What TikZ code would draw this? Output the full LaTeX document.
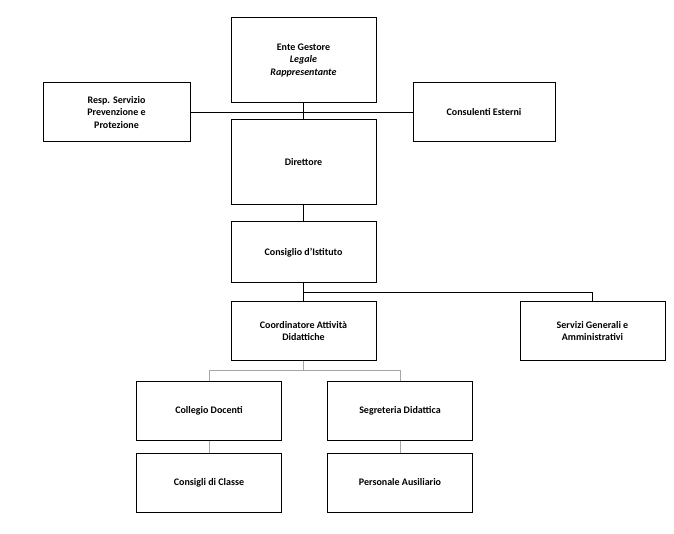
\documentclass[tikz,border=0pt]{standalone}
\usepackage{fontspec}
\setmainfont{Carlito}
\begin{document}
\begin{tikzpicture}[x=1pt,y=-1pt,
  box/.style={draw,line width=1pt,fill=white,align=center,inner sep=2pt,
    font=\bfseries\fontsize{10}{12.5}\selectfont},
  wide/.style={box,minimum width=145pt,minimum height=59pt},
  tall/.style={box,minimum width=145pt,minimum height=85pt},
  main/.style={line width=1.1pt},
  thin/.style={gray!70,line width=0.6pt}]
  % Frame
  \useasboundingbox (0,0) rectangle (674,534);
  %
  % Boxes
  \node[tall] (ente) at (303.5,60.5) {Ente Gestore\\\textit{Legale}\\\textit{Rappresentante}};
  \node[wide,minimum width=147pt] (rspp) at (116.5,112.5) {Resp. Servizio\\Prevenzione e\\Protezione};
  \node[wide,minimum width=142pt] (cons) at (484,112.5) {Consulenti Esterni};
  \node[tall] (dir) at (303.5,162.5) {Direttore};
  \node[wide,minimum height=61pt] (ci) at (303.5,252.5) {Consiglio d'Istituto};
  \node[wide,minimum height=58pt] (coord) at (303.5,331) {Coordinatore Attività\\Didattiche};
  \node[wide,minimum height=58pt] (serv) at (592.5,331) {Servizi Generali e\\Amministrativi};
  \node[wide] (coll) at (209,410.5) {Collegio Docenti};
  \node[wide] (segr) at (400,410.5) {Segreteria Didattica};
  \node[wide] (ccl) at (209,482.5) {Consigli di Classe};
  \node[wide] (pers) at (400,482.5) {Personale Ausiliario};
  %
  % Connectors
  \begin{scope}[on background layer/.style={}]
  \end{scope}
  \draw[main] (rspp.east) -- (cons.west);
  \draw[main] (ente.south) -- (dir.north);
  \draw[main] (dir.south) -- (ci.north);
  \draw[main] (ci.south) -- (coord.north);
  \draw[main] (ci.south) ++(0,9) -| (serv.north);
  \draw[thin] (coord.south) -- ++(0,10) coordinate (split);
  \draw[thin] (split) -| (coll.north);
  \draw[thin] (split) -| (segr.north);
  \draw[thin] (coll.south) -- (ccl.north);
  \draw[thin] (segr.south) -- (pers.north);
  %
  % Boxes again over the lines
  \node[tall] at (ente) {Ente Gestore\\\textit{Legale}\\\textit{Rappresentante}};
  \node[tall] at (dir) {Direttore};
\end{tikzpicture}
\end{document}
